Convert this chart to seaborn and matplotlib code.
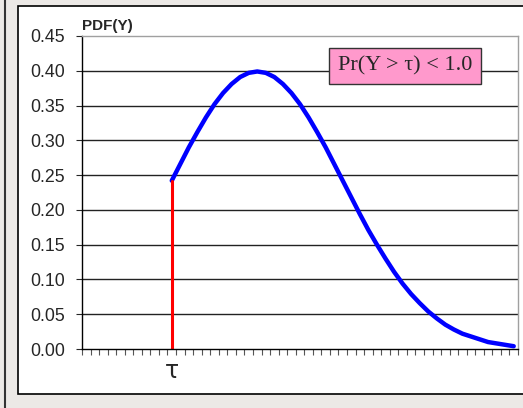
import numpy as np
import pandas as pd
import matplotlib.pyplot as plt
import seaborn as sns
from matplotlib.patches import Rectangle
from matplotlib.lines import Line2D

# category slots along the x axis (no labels, only tick marks)
n_slots = 51
tau_slot = 10
# PDF(Y), from tau up to the right edge
pdf_vals = [0.242, 0.266, 0.290, 0.312, 0.333, 0.352, 0.368, 0.381, 0.391, 0.397,
            0.399, 0.397, 0.391, 0.381, 0.368, 0.352, 0.333, 0.312, 0.290, 0.266,
            0.242, 0.218, 0.194, 0.171, 0.150, 0.130, 0.111, 0.094, 0.079, 0.066,
            0.054, 0.044, 0.035, 0.028, 0.022, 0.018, 0.014, 0.010, 0.008, 0.006,
            0.004]
y_ticks = [0.00, 0.05, 0.10, 0.15, 0.20, 0.25, 0.30, 0.35, 0.40, 0.45]
tau_label = "τ"
box_text = "Pr(Y > τ) < 1.0"

df = pd.DataFrame({"slot": np.arange(tau_slot, tau_slot + len(pdf_vals)), "pdf": pdf_vals})

sns.set_style("white")
plt.rcParams['font.family'] = ['Liberation Sans', 'DejaVu Sans']

W, H = 523, 408
fig = plt.figure(figsize=(W / 100, H / 100), dpi=100, facecolor="#ECE9E6")

# chart area frame, kept behind the axes
fig.add_artist(Line2D([4.5 / W, 4.5 / W], [0, 1], color="#333333", lw=1.5, zorder=-5))
fig.add_artist(Rectangle((18 / W, 1 - 394 / H), (W - 18) / W + 0.01, (394 - 6) / H,
                         facecolor="white", edgecolor="black", lw=1.2, zorder=-5))

ax = fig.add_axes([82 / W, 1 - 349 / H, (518 - 82) / W, (349 - 36) / H])
ax.set_zorder(2)
sns.lineplot(data=df, x="slot", y="pdf", color="#0000FF", lw=3.2, ax=ax)
ax.plot([tau_slot, tau_slot], [0, pdf_vals[0]], color="#FF0000", lw=2.2)

ax.set_xlim(-0.5, n_slots - 0.5)
ax.set_ylim(0, 0.45)
ax.set_yticks(y_ticks)
ax.set_yticklabels([f"{v:.2f}" for v in y_ticks], fontsize=12.8)
ax.set_xticks(np.arange(-0.5, n_slots, 1.0))
ax.set_xticklabels([])
ax.tick_params(axis="x", direction="out", length=4, width=0.8, color="#555555", bottom=True)
ax.tick_params(axis="y", direction="out", length=4.5, width=0.8, left=True, pad=8)
ax.set_xlabel("")
ax.set_ylabel("")

for v in y_ticks[1:-1]:
    ax.axhline(v, color="#222222", lw=1.0, zorder=0)
ax.spines["left"].set_color("black")
ax.spines["bottom"].set_color("black")
ax.spines["top"].set_color("#A0A0A0")
ax.spines["right"].set_color("#A0A0A0")
for s in ax.spines.values():
    s.set_linewidth(1.0)

ax.text(tau_slot, -0.032, tau_label, ha="center", va="center", fontsize=17,
        family="DejaVu Sans")
fig.text(82 / W, 1 - 30 / H, "PDF(Y)", fontsize=11, fontweight="bold", ha="left", va="baseline")
ax.text(0.741, 0.904, box_text, transform=ax.transAxes,
        ha="center", va="center", fontsize=16, family="Liberation Serif",
        bbox=dict(boxstyle="square,pad=0.38", facecolor="#FF99CC", edgecolor="#333333", lw=1.0))

fig.savefig("out.png", dpi=100, facecolor=fig.get_facecolor())
